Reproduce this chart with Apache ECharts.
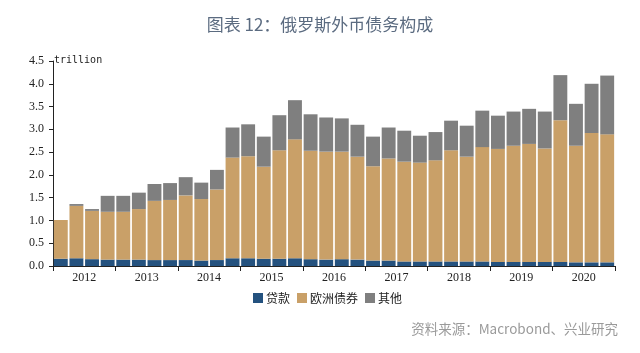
<!DOCTYPE html>
<html>
<head>
<meta charset="utf-8">
<script src="https://cdn.jsdelivr.net/npm/echarts@6/dist/echarts.min.js"></script>
<style>
  html, body { margin: 0; padding: 0; background: #fff; }
  #main { width: 640px; height: 353px; }
</style>
</head>
<body>
<div id="main"></div>
<script>
var myChart = echarts.init(document.getElementById("main"));

// quarters 2012Q1 .. 2020Q4
var years = ['2012','2013','2014','2015','2016','2017','2018','2019','2020'];
var quarters = [];
years.forEach(function (y) {
    for (var q = 1; q <= 4; q++) quarters.push(y + 'Q' + q);
});

var loans = [0.16,0.17,0.15,0.14,0.14,0.14,0.13,0.13,0.13,0.12,0.13,0.17,
             0.17,0.16,0.16,0.17,0.15,0.14,0.15,0.14,0.12,0.12,0.10,0.10,
             0.10,0.10,0.10,0.10,0.09,0.09,0.09,0.09,0.09,0.08,0.08,0.08];
var eurobonds = [0.85,1.15,1.06,1.05,1.05,1.11,1.30,1.32,1.42,1.35,1.55,2.21,
                 2.24,2.02,2.38,2.61,2.38,2.37,2.36,2.26,2.07,2.24,2.19,2.17,
                 2.22,2.44,2.30,2.51,2.48,2.55,2.59,2.49,3.11,2.56,2.84,2.81];
var others = [0.00,0.04,0.04,0.35,0.35,0.36,0.37,0.37,0.40,0.36,0.43,0.66,
              0.70,0.66,0.77,0.86,0.80,0.75,0.73,0.70,0.65,0.68,0.68,0.59,
              0.62,0.65,0.68,0.80,0.73,0.75,0.77,0.81,0.99,0.92,1.08,1.29];

var serif = '"Liberation Serif", "DejaVu Serif", serif';
var cjk = '"Noto Sans CJK SC", sans-serif';

option = {
    color: ['#24527f', '#c9a068', '#7f7f7f'],
    title: {
        text: '图表 12：俄罗斯外币债务构成',
        left: 'center',
        top: 11,
        textStyle: { color: '#5b6b80', fontSize: 17, fontWeight: 'normal', fontFamily: cjk }
    },
    legend: {
        left: 248,
        top: 287,
        itemWidth: 10,
        itemHeight: 10,
        itemGap: 7,
        icon: 'rect',
        textStyle: { fontFamily: cjk, fontSize: 12, color: '#222', padding: [0, 0, 0, -2] },
        data: ['贷款', '欧洲债券', '其他']
    },
    grid: { left: 53, right: 25, top: 61, bottom: 87 },
    xAxis: [
        {
            type: 'category',
            data: quarters,
            axisLine: { lineStyle: { color: '#222' } },
            axisTick: { show: false },
            axisLabel: { show: false }
        },
        {
            type: 'category',
            data: years,
            position: 'bottom',
            axisLine: { show: false },
            axisTick: { show: true, length: 5, lineStyle: { color: '#222' } },
            axisLabel: { color: '#222', fontFamily: serif, fontSize: 12, margin: 6 }
        }
    ],
    yAxis: {
        type: 'value',
        min: 0,
        max: 4.5,
        interval: 0.5,
        splitLine: { show: false },
        axisLine: { show: true, lineStyle: { color: '#222' } },
        axisTick: { show: true, length: 4, lineStyle: { color: '#222' } },
        axisLabel: {
            color: '#222', fontFamily: serif, fontSize: 12, margin: 9,
            formatter: function (v) { return v.toFixed(1); }
        }
    },
    graphic: [
        {
            type: 'text', left: 54, top: 55,
            style: { text: 'trillion', fill: '#222', font: '10px "DejaVu Sans Mono", monospace' }
        },
        {
            type: 'text', right: 22, top: 322,
            style: { text: '资料来源：Macrobond、兴业研究', fill: '#9a9a9a', font: '13.5px "Noto Sans CJK SC", sans-serif' }
        }
    ],
    series: [
        { name: '贷款', type: 'bar', stack: 'debt', barCategoryGap: '11%', data: loans },
        { name: '欧洲债券', type: 'bar', stack: 'debt', barCategoryGap: '11%', data: eurobonds },
        { name: '其他', type: 'bar', stack: 'debt', barCategoryGap: '11%', data: others }
    ]
};
myChart.setOption(option);

window.addEventListener('resize', function () {
    myChart.resize();
});
</script>
</body>
</html>
